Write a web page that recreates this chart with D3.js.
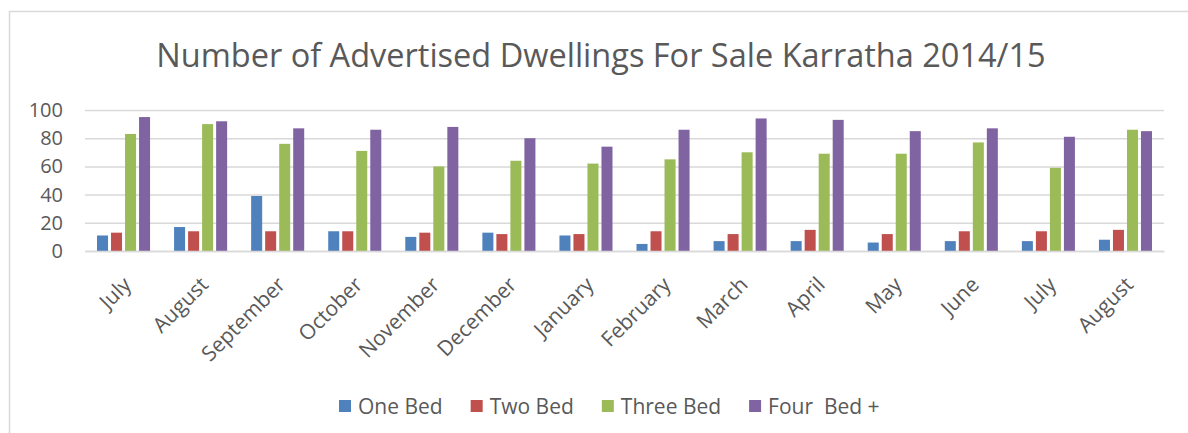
<!DOCTYPE html>
<html>
<head>
<meta charset="utf-8">
<script src="https://cdn.jsdelivr.net/npm/d3@7"></script>
<style>
  body { margin: 0; background: #fff; }
  svg text { font-family: "Open Sans", sans-serif; fill: #595959; }
</style>
</head>
<body>
<div id="chart"></div>
<script>
// Chart data

const months = [
  "July", "August", "September", "October", "November", "December", "January",
  "February", "March", "April", "May", "June", "July", "August",
];
const seriesNames = ["One Bed", "Two Bed", "Three Bed", "Four  Bed +"];
const seriesColors = ["#4f81bd", "#c0504d", "#9bbb59", "#8064a2"];
const oneBed = [11, 17, 39, 14, 10, 13, 11, 5, 7, 7, 6, 7, 7, 8];
const twoBed = [13, 14, 14, 14, 13, 12, 12, 14, 12, 15, 12, 14, 14, 15];
const threeBed = [83, 90, 76, 71, 60, 64, 62, 65, 70, 69, 69, 77, 59, 86];
const fourBed = [95, 92, 87, 86, 88, 80, 74, 86, 94, 93, 85, 87, 81, 85];
const yTicks = [0, 20, 40, 60, 80, 100];
const titleText = "Number of Advertised Dwellings For Sale Karratha 2014/15";

const seriesValues = [oneBed, twoBed, threeBed, fourBed];

const WIDTH = 1188;
const HEIGHT = 433;
const plot = { left: 85, right: 1164, top: 110, bottom: 251 };

const svg = d3
  .select("#chart")
  .append("svg")
  .attr("width", WIDTH)
  .attr("height", HEIGHT);

// Chart border (right and bottom edges fall outside the picture)
svg
  .append("rect")
  .attr("x", 9.5)
  .attr("y", 11.5)
  .attr("width", WIDTH + 20)
  .attr("height", HEIGHT + 20)
  .attr("fill", "none")
  .attr("stroke", "#d9d9d9")
  .attr("stroke-width", 1.5);

// Title
svg
  .append("text")
  .attr("x", (157 + 1045) / 2)
  .attr("y", 67)
  .attr("text-anchor", "middle")
  .style("font-size", "32.5px")
  .text(titleText);

// Scales
const xScale = d3
  .scaleBand()
  .domain(d3.range(months.length))
  .range([plot.left, plot.right])
  .padding(0);

const xInner = d3
  .scaleBand()
  .domain(d3.range(seriesNames.length))
  .range([0, xScale.bandwidth()])
  .paddingInner(0.214)
  .paddingOuter(0.857);

const yScale = d3.scaleLinear([0, 100], [plot.bottom, plot.top]);

// Y axis with gridlines
const yAxis = svg
  .append("g")
  .attr("transform", `translate(${plot.left},0)`)
  .call(
    d3
      .axisLeft(yScale)
      .tickValues(yTicks)
      .tickSize(-(plot.right - plot.left))
      .tickPadding(22)
  );
yAxis.select(".domain").remove();
yAxis
  .selectAll(".tick line")
  .attr("stroke", "#d9d9d9")
  .attr("stroke-width", 1.5);
yAxis
  .selectAll(".tick text")
  .style("font-size", "20px")
  .style("fill", "#595959");

// Bars
const groups = svg
  .append("g")
  .selectAll("g")
  .data(months.map((m, i) => i))
  .join("g")
  .attr("transform", (i) => `translate(${xScale(i)},0)`);

groups
  .selectAll("rect")
  .data((i) => seriesValues.map((vals, s) => ({ s: s, v: vals[i] })))
  .join("rect")
  .attr("x", (d) => xInner(d.s))
  .attr("width", xInner.bandwidth())
  .attr("y", (d) => yScale(d.v))
  .attr("height", (d) => yScale(0) - yScale(d.v))
  .attr("fill", (d) => seriesColors[d.s]);

// X axis
const xAxis = svg
  .append("g")
  .attr("transform", `translate(0,${plot.bottom})`)
  .call(
    d3
      .axisBottom(xScale)
      .tickSize(0)
      .tickFormat((i) => months[i])
  );
xAxis
  .select(".domain")
  .attr("stroke", "#d9d9d9")
  .attr("stroke-width", 1.5);
xAxis
  .selectAll(".tick text")
  .attr("text-anchor", "end")
  .attr("x", 0)
  .attr("y", 0)
  .attr("dy", 0)
  .attr("transform", "translate(9,35) rotate(-45)")
  .style("font-size", "21px")
  .style("fill", "#595959");

// Legend
const legend = svg.append("g").attr("transform", "translate(339,400)");
let legendX = 0;
seriesNames.forEach((name, s) => {
  const item = legend.append("g").attr("transform", `translate(${legendX},0)`);
  item
    .append("rect")
    .attr("width", 12)
    .attr("height", 12)
    .attr("fill", seriesColors[s]);
  const label = item
    .append("text")
    .attr("x", 19)
    .attr("y", 13.5)
    .style("font-size", "21px")
    .style("white-space", "pre")
    .text(name);
  legendX += 19 + label.node().getComputedTextLength() + 28;
});
</script>
</body>
</html>
